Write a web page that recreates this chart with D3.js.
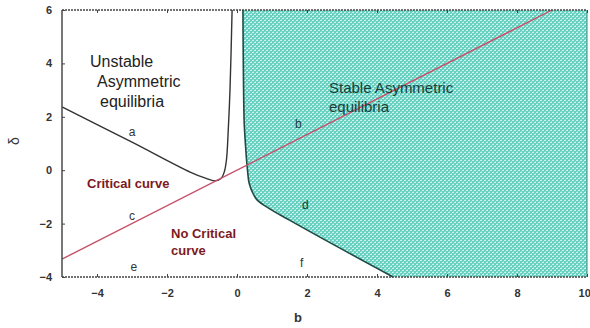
<!DOCTYPE html>
<html>
<head>
<meta charset="utf-8">
<script src="https://cdn.jsdelivr.net/npm/d3@7/dist/d3.min.js"></script>
<style>
  html, body { margin: 0; padding: 0; background: #fff; }
  svg { display: block; font-family: "Liberation Sans", Arial, sans-serif; }
</style>
</head>
<body>
<svg id="chart" width="590" height="328"></svg>
<script>
// Axis ticks
const xTicks = [-4, -2, 0, 2, 4, 6, 8, 10];
const yTicks = [-4, -2, 0, 2, 4, 6];

// Critical curve: delta = 2b/3
const criticalCurve = [[-5, -3.33], [9, 6]];

// Boundary of the unstable asymmetric equilibria (curve a)
const unstableBoundary = [
  [-5, 2.37], [-3, 1.05], [-1.34, -0.07], [-0.9, -0.3], [-0.63, -0.4],
  [-0.45, -0.3], [-0.36, -0.05], [-0.3, 0.4], [-0.25, 1.5], [-0.2, 3], [-0.14, 6]
];

// Boundary of the stable asymmetric equilibria region
const stableBoundary = [
  [0.17, 6], [0.2, 2], [0.25, 0.8], [0.3, 0], [0.35, -0.5], [0.45, -0.85],
  [0.6, -1.15], [0.9, -1.42], [1.5, -1.87], [4.46, -4]
];
const stableCorners = [[10, -4], [10, 6]];

// Region labels
const regionLetters = [
  { t: "a", b: -3.0, d: 1.45 },
  { t: "b", b: 1.75, d: 1.75 },
  { t: "c", b: -3.0, d: -1.7 },
  { t: "d", b: 1.95, d: -1.3 },
  { t: "e", b: -2.95, d: -3.6 },
  { t: "f", b: 1.85, d: -3.45 }
];

const svg = d3.select("#chart");
const margin = { left: 62, right: 3, top: 10, bottom: 51 };
const W = 590, H = 328;

const x = d3.scaleLinear().domain([-5, 10]).range([margin.left, W - margin.right]);
const y = d3.scaleLinear().domain([-4, 6]).range([H - margin.bottom, margin.top]);

const line = d3.line().x(d => x(d[0])).y(d => y(d[1]));
const smooth = d3.line().x(d => x(d[0])).y(d => y(d[1])).curve(d3.curveMonotoneY);

// Textured teal fill
const defs = svg.append("defs");
const pat = defs.append("pattern")
  .attr("id", "mesh").attr("patternUnits", "userSpaceOnUse")
  .attr("width", 4).attr("height", 4);
pat.append("rect").attr("width", 4).attr("height", 4).attr("fill", "#68cebf");
pat.append("rect").attr("x", 0).attr("y", 0).attr("width", 2).attr("height", 1).attr("fill", "#cdf3ec");
pat.append("rect").attr("x", 2).attr("y", 2).attr("width", 2).attr("height", 1).attr("fill", "#cdf3ec");
pat.append("rect").attr("x", 3).attr("y", 1).attr("width", 1).attr("height", 1).attr("fill", "#a0e2d6");
pat.append("rect").attr("x", 1).attr("y", 3).attr("width", 1).attr("height", 1).attr("fill", "#a0e2d6");

// Stable region
const stableArea = stableBoundary.concat(stableCorners);
svg.append("path")
  .attr("d", line(stableArea) + "Z")
  .attr("fill", "url(#mesh)");

svg.append("path")
  .attr("d", smooth(stableBoundary))
  .attr("fill", "none").attr("stroke", "#1f4a44").attr("stroke-width", 1.6);

// Unstable boundary (curve a)
svg.append("path")
  .attr("d", d3.line().x(d => x(d[0])).y(d => y(d[1])).curve(d3.curveCatmullRom.alpha(0.5))(unstableBoundary))
  .attr("fill", "none").attr("stroke", "#333").attr("stroke-width", 1.4);

// Critical curve
svg.append("path")
  .attr("d", line(criticalCurve))
  .attr("fill", "none").attr("stroke", "#c8506a").attr("stroke-width", 1.4);

// Frame: solid left side, dotted top/bottom, thin right edge
const x0 = x(-5), x1 = x(10), y0 = y(-4), y1 = y(6);
svg.append("line").attr("x1", x0).attr("x2", x0).attr("y1", y1).attr("y2", y0)
  .attr("stroke", "#555").attr("stroke-width", 1.6);
svg.append("line").attr("x1", x0).attr("x2", x1).attr("y1", y1).attr("y2", y1)
  .attr("stroke", "#444").attr("stroke-width", 1.3).attr("stroke-dasharray", "2,1");
svg.append("line").attr("x1", x0).attr("x2", x1).attr("y1", y0).attr("y2", y0)
  .attr("stroke", "#444").attr("stroke-width", 1.3).attr("stroke-dasharray", "2,1");
svg.append("line").attr("x1", x1).attr("x2", x1).attr("y1", y1).attr("y2", y0)
  .attr("stroke", "#3a8a7e").attr("stroke-width", 1);

// Axes
const fmt = d => d < 0 ? "\u2212" + Math.abs(d) : d;
const xAxis = svg.append("g").attr("transform", `translate(0,${y0})`)
  .call(d3.axisBottom(x).tickValues(xTicks).tickSize(-3).tickPadding(12).tickFormat(fmt));
const xTop = svg.append("g").attr("transform", `translate(0,${y1})`)
  .call(d3.axisTop(x).tickValues(xTicks).tickSize(-3).tickFormat(""));
const yAxis = svg.append("g").attr("transform", `translate(${x0},0)`)
  .call(d3.axisLeft(y).tickValues(yTicks).tickSize(-3).tickPadding(10).tickFormat(fmt));
[xAxis, xTop, yAxis].forEach(g => {
  g.select(".domain").remove();
  g.selectAll(".tick line").attr("stroke", "#444").attr("stroke-width", 1);
  g.selectAll(".tick text").attr("fill", "#333").attr("font-size", 11)
    .attr("font-weight", "bold").attr("font-family", "Liberation Sans, Arial, sans-serif");
});
// keep the last tick label inside the page
xAxis.selectAll(".tick text").filter(d => d === 10)
  .attr("text-anchor", "end").attr("dx", "0.3em");

// Axis titles
svg.append("text").attr("x", 298).attr("y", 322).attr("text-anchor", "middle")
  .attr("font-size", 13).attr("fill", "#333").attr("font-weight", "bold").text("b");
svg.append("text").attr("transform", "translate(19,141) rotate(-90)")
  .attr("text-anchor", "middle").attr("font-size", 14).attr("fill", "#333").text("δ");

// Region descriptions
const blk = svg.append("g").attr("font-size", 16).attr("fill", "#222");
blk.append("text").attr("x", 90).attr("y", 67).text("Unstable");
blk.append("text").attr("x", 97).attr("y", 87).text("Asymmetric");
blk.append("text").attr("x", 100).attr("y", 107).text("equilibria");

const stab = svg.append("g").attr("font-size", 15).attr("fill", "#17403b");
stab.append("text").attr("x", 329).attr("y", 93).text("Stable Asymmetric");
stab.append("text").attr("x", 329).attr("y", 112).text("equilibria");

const red = svg.append("g").attr("font-size", 13).attr("font-weight", "bold").attr("fill", "#7d1a22");
red.append("text").attr("x", 87).attr("y", 188).text("Critical curve");
red.append("text").attr("x", 171).attr("y", 238).text("No Critical");
red.append("text").attr("x", 171).attr("y", 255).text("curve");

svg.append("g").selectAll("text").data(regionLetters).join("text")
  .attr("x", d => x(d.b)).attr("y", d => y(d.d)).attr("dy", "0.35em")
  .attr("text-anchor", "middle").attr("font-size", 12)
  .attr("fill", d => (d.t === "b" || d.t === "d") ? "#17403b" : "#333")
  .text(d => d.t);
</script>
</body>
</html>
